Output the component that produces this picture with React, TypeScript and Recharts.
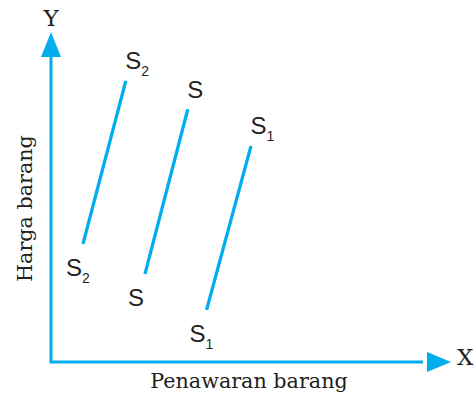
import { ComposedChart, Line, XAxis, YAxis, ReferenceDot, LabelList } from 'recharts'

const BLUE = '#00aeef'
const INK = '#231f20'
const SERIF = '"DejaVu Serif", "Liberation Serif", serif'
const SANS = '"Liberation Sans", Arial, sans-serif'

// three supply curves, lower and upper end of each (quantity, price)
const curveSubs = ['2', '', '1']
const lowQty = [8, 23.5, 38.9]
const highQty = [18.7, 34.2, 50]
const lowPrice = [35.8, 26.7, 15.8]
const highPrice = [85.2, 76.6, 65.5]

const axisMax = 100
const shaftEnd = 93
const xTitle = 'Penawaran barang'
const yTitle = 'Harga barang'

const curves = curveSubs.map((sub, i) => ({
  sub,
  data: [
    { q: lowQty[i], p: lowPrice[i] },
    { q: highQty[i], p: highPrice[i] },
  ],
}))

const axisShaft = [
  { q: 0, p: shaftEnd },
  { q: 0, p: 0 },
  { q: shaftEnd, p: 0 },
]

function CurveLabel(props: any) {
  const { x, y, index, sub } = props
  const cx = index === 1 ? x + 7.5 : x - 9
  const cy = index === 1 ? y - 20 : y + 24
  return (
    <text x={cx - 8} y={cy + 8.5} fill={INK} fontFamily={SANS} fontSize={24}>
      S
      {sub && <tspan fontSize={14} dy={6.5}>{sub}</tspan>}
    </text>
  )
}

const yArrow = (props: any) => {
  const { cx, cy } = props
  return (
    <g>
      <path d={`M${cx},${cy} L${cx + 10},${cy + 25} L${cx - 10},${cy + 25} Z`} fill={BLUE} />
      <text x={cx} y={cy - 6} textAnchor="middle" fill={INK} fontFamily={SERIF} fontSize={23}>Y</text>
    </g>
  )
}

const xArrow = (props: any) => {
  const { cx, cy } = props
  return (
    <g>
      <path d={`M${cx},${cy} L${cx - 24},${cy - 10} L${cx - 24},${cy + 10} Z`} fill={BLUE} />
      <text x={cx + 6} y={cy + 3} fill={INK} fontFamily={SERIF} fontSize={23}>X</text>
    </g>
  )
}

const xTitleShape = (props: any) => (
  <text x={props.cx - 2} y={props.cy + 26} textAnchor="middle" fill={INK} fontFamily={SERIF} fontSize={20.7}>
    {xTitle}
  </text>
)

const yTitleShape = (props: any) => {
  const x = props.cx - 19
  return (
    <text x={x} y={props.cy} transform={`rotate(-90 ${x} ${props.cy})`} textAnchor="middle" fill={INK} fontFamily={SERIF} fontSize={20.7}>
      {yTitle}
    </text>
  )
}

export default function App() {
  return (
    <div style={{ position: 'absolute', left: 0, top: 0, background: '#fff' }}>
      <ComposedChart width={476} height={398} margin={{ top: 32, right: 25, bottom: 36, left: 51 }}>
        <XAxis type="number" dataKey="q" domain={[0, axisMax]} hide />
        <YAxis type="number" dataKey="p" domain={[0, axisMax]} hide />
        <Line data={axisShaft} dataKey="p" stroke={BLUE} strokeWidth={3} dot={false} activeDot={false} isAnimationActive={false} />
        {curves.map((c, i) => (
          <Line key={i} data={c.data} dataKey="p" stroke={BLUE} strokeWidth={3.3} dot={false} activeDot={false} isAnimationActive={false}>
            <LabelList dataKey="p" content={(p: any) => <CurveLabel {...p} sub={c.sub} />} />
          </Line>
        ))}
        <ReferenceDot x={0} y={axisMax} ifOverflow="visible" shape={yArrow} />
        <ReferenceDot x={axisMax} y={0} ifOverflow="visible" shape={xArrow} />
        <ReferenceDot x={axisMax / 2} y={0} ifOverflow="visible" shape={xTitleShape} />
        <ReferenceDot x={0} y={shaftEnd / 2} ifOverflow="visible" shape={yTitleShape} />
      </ComposedChart>
    </div>
  )
}
